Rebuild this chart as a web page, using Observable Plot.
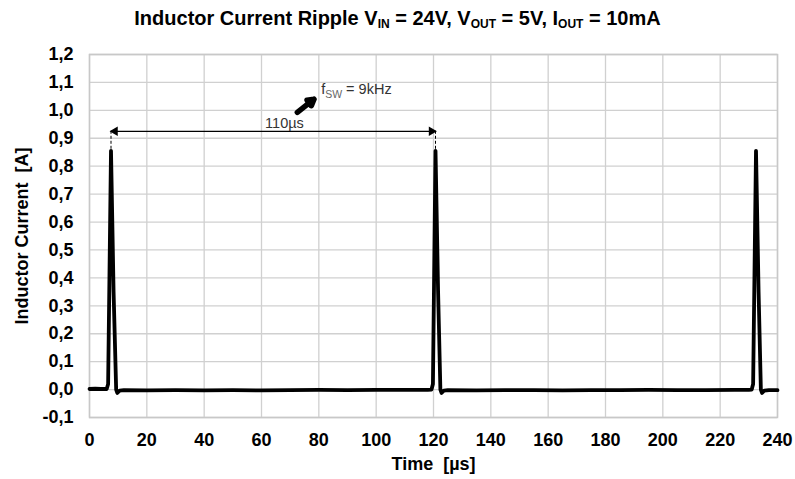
<!DOCTYPE html>
<html>
<head>
<meta charset="utf-8">
<script src="https://cdn.jsdelivr.net/npm/d3@7"></script>
<script src="https://cdn.jsdelivr.net/npm/@observablehq/plot@0.6"></script>
<style>
  body { margin: 0; background: #fff; font-family: "Liberation Sans", Arial, sans-serif; }
  #title { height: 36px; line-height: 36px; text-align: center; font-weight: bold; font-size: 20px; color: #000; width: 795px; }
  #title sub { font-size: 12px; vertical-align: -3px; line-height: 0; }
</style>
</head>
<body>
<div id="title">Inductor Current Ripple V<sub>IN</sub> = 24V, V<sub>OUT</sub> = 5V, I<sub>OUT</sub> = 10mA</div>
<div id="chart"></div>
<script>
// Waveform samples: time [µs] and inductor current [A]
const time = [0, 2, 4, 6.0, 6.5, 7.5, 8.4, 9.3, 9.7, 10.5, 12, 20, 30, 40, 50, 60, 70, 80, 90, 100, 110, 118, 119.3, 119.8, 120.7, 121.6, 122.4, 122.8, 123.6, 125, 135, 145, 155, 165, 175, 185, 195, 205, 215, 225, 230, 231.0, 231.5, 232.5, 233.4, 234.2, 234.6, 235.4, 237, 240];
const current = [0.002, 0.003, 0.002, 0.002, 0.02, 0.855, 0.35, 0.0, -0.012, -0.004, -0.002, -0.003, -0.002, -0.003, -0.002, -0.003, -0.002, -0.001, -0.002, -0.001, -0.001, -0.001, 0.0, 0.02, 0.855, 0.35, 0.0, -0.012, -0.004, -0.002, -0.003, -0.002, -0.002, -0.003, -0.002, -0.002, -0.001, -0.002, -0.002, -0.001, -0.001, 0.0, 0.02, 0.855, 0.35, 0.0, -0.012, -0.004, -0.002, -0.002];

const xTicks = [0, 20, 40, 60, 80, 100, 120, 140, 160, 180, 200, 220, 240];
const yTicks = [-0.1, 0, 0.1, 0.2, 0.3, 0.4, 0.5, 0.6, 0.7, 0.8, 0.9, 1.0, 1.1, 1.2];

// Period annotation
const periodStart = [7.5];
const periodEnd = [120.7];
const periodLevel = [0.925];
const peakLevel = [0.855];
const periodLabel = ["110µs"];
const freqLabel = ["fSW = 9kHz"];

const data = time.map((t, i) => ({t, a: current[i]}));
const fmt = v => d3.format(".1f")(v).replace(".", ",").replace("−", "-");

const chart = Plot.plot({
  width: 795,
  height: 443,
  marginTop: 18,
  marginBottom: 62,
  marginLeft: 89,
  marginRight: 18,
  style: { fontFamily: "'Liberation Sans', Arial, sans-serif", background: "#fff" },
  x: { domain: [0, 240], ticks: xTicks, label: "Time  [µs]" },
  y: { domain: [-0.1, 1.2], ticks: yTicks, label: "Inductor Current  [A]" },
  marks: [
    Plot.gridX(xTicks, { stroke: "#d0d0d0", strokeOpacity: 1, strokeWidth: 1.3 }),
    Plot.gridY(yTicks, { stroke: "#d0d0d0", strokeOpacity: 1, strokeWidth: 1.3 }),
    Plot.frame({ stroke: "#c8c8c8", strokeWidth: 1.5 }),
    Plot.axisX(xTicks, { tickSize: 0, tickPadding: 16, fontSize: 18, fontWeight: "bold", fill: "#000",
      label: "Time  [µs]", labelAnchor: "center", labelArrow: "none", labelOffset: 52 }),
    Plot.axisY(yTicks, { tickSize: 0, tickPadding: 16, fontSize: 18, fontWeight: "bold", fill: "#000", tickFormat: fmt,
      label: "Inductor Current  [A]", labelAnchor: "center", labelArrow: "none", labelOffset: 74 }),
    Plot.line(data, { x: "t", y: "a", stroke: "#000", strokeWidth: 3.8, strokeLinejoin: "round", curve: "linear" }),
    // dashed guides from arrow to peaks
    Plot.ruleX(periodStart, { x: d => d, y1: periodLevel[0], y2: peakLevel[0], stroke: "#000", strokeWidth: 1, strokeDasharray: "3,2" }),
    Plot.ruleX(periodEnd, { x: d => d, y1: periodLevel[0], y2: peakLevel[0], stroke: "#000", strokeWidth: 1, strokeDasharray: "3,2" }),
    Plot.link([0], { x1: () => periodStart[0], x2: () => periodEnd[0], y1: () => periodLevel[0], y2: () => periodLevel[0],
      stroke: "#000", strokeWidth: 1.3 }),
    Plot.dot(periodStart, { x: d => d, y: () => periodLevel[0], symbol: "triangle2", r: 4.5, fill: "#000", rotate: -90, dx: 4 }),
    Plot.dot(periodEnd, { x: d => d, y: () => periodLevel[0], symbol: "triangle2", r: 4.5, fill: "#000", rotate: 90, dx: -4 }),
    Plot.text(periodLabel, { x: 68, y: 0.953, text: d => d, fontSize: 14.5, fill: "#333" }),
    Plot.arrow([0], { x1: 72.5, y1: 0.993, x2: 78.3, y2: 1.04, stroke: "#000", strokeWidth: 5.5, headLength: 9 }),
    Plot.text(freqLabel, { x: 80.8, y: 1.075, text: d => d, fontSize: 14.5, fill: "#333", textAnchor: "start", className: "fsw" })
  ]
});

// Subscript for f_SW
d3.select(chart).selectAll("g.fsw text").each(function() {
  const t = d3.select(this);
  t.text("");
  t.append("tspan").text("f");
  t.append("tspan").attr("dy", "4").attr("font-size", "10.5").attr("fill", "#666").text("SW");
  t.append("tspan").attr("dy", "-4").text(" = 9kHz");
});
// axis label styling
d3.select(chart).selectAll("[aria-label='x-axis label'] text, [aria-label='y-axis label'] text")
  .attr("font-size", 18).attr("font-weight", "bold").attr("fill", "#000");

document.getElementById("chart").appendChild(chart);
</script>
</body>
</html>
